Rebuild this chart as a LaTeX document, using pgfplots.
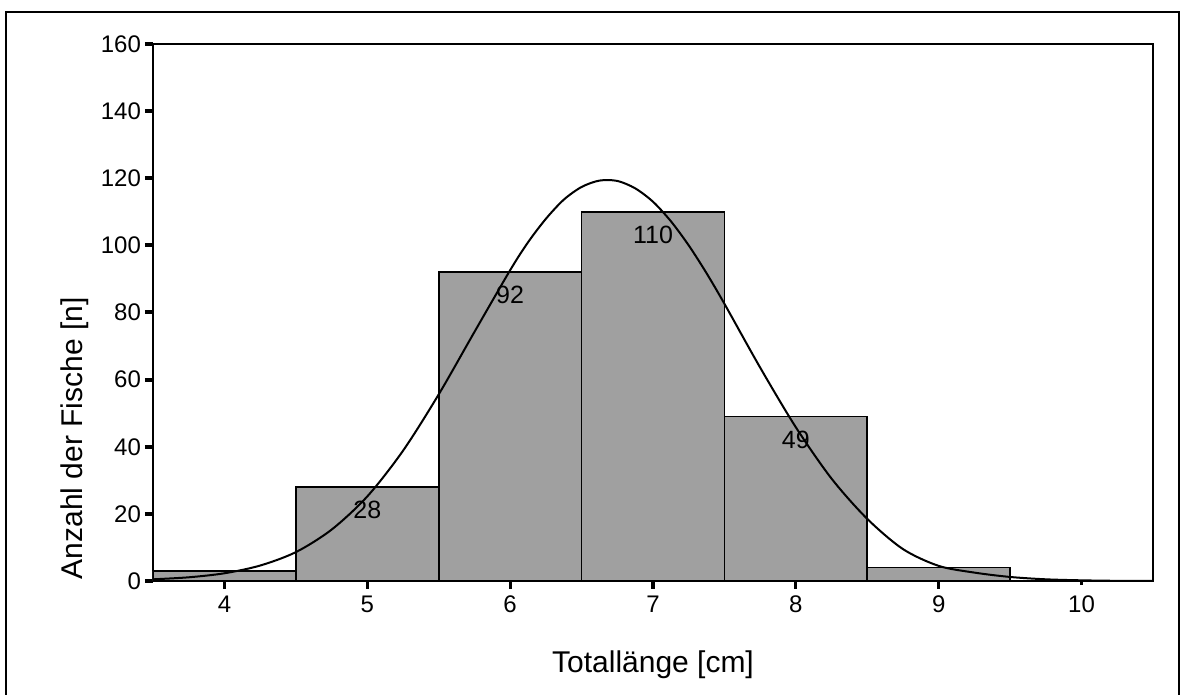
\documentclass[border=0pt]{standalone}
\usepackage{fontspec}
\setmainfont{Liberation Sans}
\usepackage{pgfplots}
\pgfplotsset{compat=1.18}

% Histogram of total length, class counts
\pgfplotstableread{
x   n   lab
4   3   {}
9   4   {}
}\tailbars
\pgfplotstableread{
x   n    lab
5   28   28
6   92   92
7   110  110
8   49   49
}\mainbars
% Fitted normal curve, read off point by point
\pgfplotstableread{
x      y
3.50   0.5
3.75   1.1
4.00   2.3
4.25   4.6
4.50   8.6
4.75   15.3
5.00   25.2
5.25   38.8
5.50   55.6
5.75   74.2
6.00   92.6
6.125  100.9
6.25   107.9
6.375  113.6
6.50   117.4
6.625  119.3
6.75   119.2
6.875  117.0
7.00   113.0
7.125  107.2
7.25   100.0
7.375  91.7
7.50   82.6
7.75   63.6
8.00   45.8
8.25   30.5
8.50   18.5
8.75   9.5
9.00   4.5
9.25   2.5
9.50   1.2
9.75   0.5
10.00  0.2
10.25  0.05
10.50  0.0
}\normalfit

\definecolor{barfill}{HTML}{A0A0A0}

\begin{document}
\begin{tikzpicture}
\useasboundingbox[fill=white] (-76.5pt,-57pt) rectangle (515.5pt,290.5pt);
\draw[line width=1pt] (-73.5pt,-60pt) -- (-73.5pt,284.5pt) -- (513pt,284.5pt) -- (513pt,-60pt);
\begin{axis}[
  at={(0,0)}, anchor=south west,
  scale only axis,
  width=500pt, height=268.5pt,
  xmin=3.5, xmax=10.5,
  ymin=0, ymax=160,
  xtick={4,5,6,7,8,9,10},
  ytick={0,20,...,160},
  axis line style={line width=0.9pt},
  tick align=outside,
  xtick pos=bottom, ytick pos=left,
  major tick length=4pt,
  x tick style={line width=1.6pt, black, shorten <=2.2pt},
  y tick style={line width=2pt, black},
  /pgf/number format/assume math mode=true,
  tick label style={font=\fontsize{12}{14}\selectfont},
  yticklabel style={xshift=1.5pt},
  xticklabel style={yshift=0pt},
  xlabel={Totallänge [cm]},
  ylabel={Anzahl der Fische [n]},
  label style={font=\fontsize{15}{18}\selectfont},
  xlabel style={at={(axis description cs:0.5,-0.156)}, anchor=center},
  ylabel style={at={(axis description cs:-0.078,0.266)}, anchor=center},
]
\addplot[ybar, bar width=1, bar shift=0pt, fill=barfill, draw=black, line width=0.9pt]
  table[x=x, y=n] {\tailbars};
\addplot[ybar, bar width=1, bar shift=0pt, fill=barfill, draw=black, line width=0.9pt,
  point meta=explicit symbolic,
  nodes near coords,
  every node near coord/.append style={anchor=center, yshift=-11.5pt,
    font=\fontsize{12.5}{14}\selectfont, text=black}]
  table[x=x, y=n, meta=lab] {\mainbars};
\addplot[black, line width=1pt, smooth, no markers] table[x=x, y=y] {\normalfit};
\end{axis}
\end{tikzpicture}
\end{document}
